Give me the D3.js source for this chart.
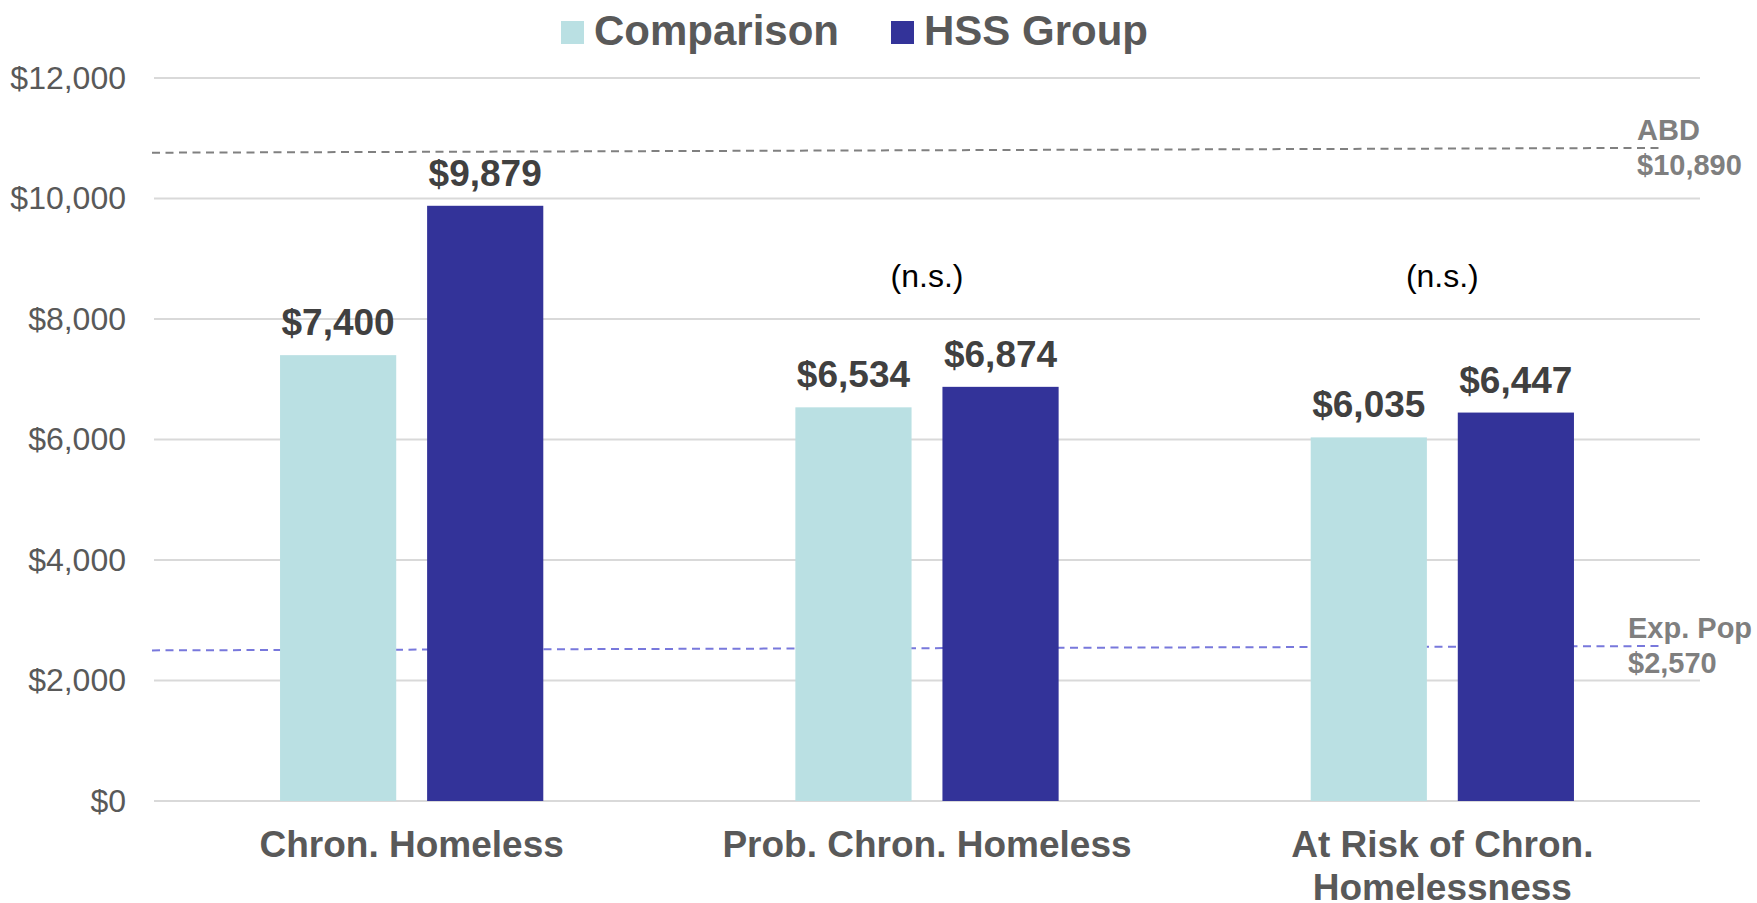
<!DOCTYPE html>
<html lang="en">
  <head>
    <meta charset="utf-8" />
    <title>Cost comparison</title>
    <style>
      html,
      body {
        margin: 0;
        padding: 0;
        background: #ffffff;
      }

      svg {
        display: block;
        font-family: 'Liberation Sans', Arial, sans-serif;
      }

      .grid line {
        stroke: #d9d9d9;
        stroke-width: 2;
      }
    </style>
  </head>

  <body>
    <svg></svg>

    <script src="https://d3js.org/d3.v7.min.js"></script>
    <script type="text/javascript">
      // Data
      const categories = [['Chron. Homeless'], ['Prob. Chron. Homeless'], ['At Risk of Chron.', 'Homelessness']]
      const seriesNames = ['Comparison', 'HSS Group']
      const comparisonValues = [7400, 6534, 6035]
      const hssValues = [9879, 6874, 6447]
      const groupNotes = ['', '(n.s.)', '(n.s.)']
      const yTicks = [0, 2000, 4000, 6000, 8000, 10000, 12000]
      // reference lines: value at left end and right end (drawn slightly sloped), label lines
      const refNames = ['ABD', 'Exp. Pop']
      const refLabels = ['$10,890', '$2,570']
      const refStart = [10760, 2500]
      const refEnd = [10840, 2572]

      const colors = ['#bae0e3', '#333399']
      const refColors = ['#808080', '#7878dc']

      let width = 1757,
        height = 903

      const margin = { top: 78, right: 57, bottom: 102, left: 154 }

      let svg = d3.select('svg').attr('width', width).attr('height', height)

      const x0 = d3
        .scaleBand()
        .domain(d3.range(categories.length))
        .range([margin.left, width - margin.right])
        .padding(0)

      const x1 = d3
        .scaleBand()
        .domain(seriesNames)
        .range([0, x0.bandwidth()])
        .paddingInner(0.21)
        .paddingOuter(0.857)

      const y = d3
        .scaleLinear()
        .domain([0, 12000])
        .range([height - margin.bottom, margin.top])

      const fmt = d3.format('$,')

      // Gridlines
      svg
        .append('g')
        .attr('class', 'grid')
        .selectAll('line')
        .data(yTicks)
        .join('line')
        .attr('x1', margin.left)
        .attr('x2', width - margin.right)
        .attr('y1', (d) => y(d))
        .attr('y2', (d) => y(d))

      // Y axis
      svg
        .append('g')
        .attr('transform', `translate(${margin.left},0)`)
        .call(d3.axisLeft(y).tickValues(yTicks).tickFormat(fmt).tickSize(0).tickPadding(28))
        .call((g) => g.select('.domain').remove())
        .call((g) =>
          g
            .selectAll('text')
            .attr('fill', '#595959')
            .style('font-size', '32px')
            .style('font-family', "'Liberation Sans', Arial, sans-serif")
        )

      // Reference lines
      const refs = refNames.map((name, i) => ({
        name,
        label: refLabels[i],
        v0: refStart[i],
        v1: refEnd[i],
        color: refColors[i],
      }))

      svg
        .append('g')
        .selectAll('line')
        .data(refs)
        .join('line')
        .attr('x1', margin.left - 2)
        .attr('x2', width - margin.right - 37)
        .attr('y1', (d) => y(d.v0))
        .attr('y2', (d) => y(d.v1))
        .attr('stroke', (d) => d.color)
        .attr('stroke-width', 2)
        .attr('stroke-dasharray', '8,5.5')

      const refText = svg
        .append('g')
        .selectAll('text')
        .data(refs)
        .join('text')
        .attr('font-size', 29)
        .attr('font-weight', 'bold')
        .attr('fill', '#7f7f7f')
        .attr('x', (d, i) => (i === 0 ? 1637 : 1628))
        .attr('y', (d) => y(d.v1) - 8)

      refText
        .append('tspan')
        .text((d) => d.name)
      refText
        .append('tspan')
        .attr('x', (d, i) => (i === 0 ? 1637 : 1628))
        .attr('dy', 35)
        .text((d) => d.label)

      // Bars
      const rows = categories.map((c, i) => ({
        idx: i,
        values: [
          { key: seriesNames[0], value: comparisonValues[i] },
          { key: seriesNames[1], value: hssValues[i] },
        ],
      }))

      const groups = svg
        .append('g')
        .selectAll('g')
        .data(rows)
        .join('g')
        .attr('transform', (d) => `translate(${x0(d.idx)},0)`)

      groups
        .selectAll('rect')
        .data((d) => d.values)
        .join('rect')
        .attr('x', (d) => x1(d.key))
        .attr('width', x1.bandwidth())
        .attr('y', (d) => y(d.value))
        .attr('height', (d) => y(0) - y(d.value))
        .attr('fill', (d, i) => colors[i])

      groups
        .selectAll('text.value')
        .data((d) => d.values)
        .join('text')
        .attr('class', 'value')
        .attr('x', (d) => x1(d.key) + x1.bandwidth() / 2)
        .attr('y', (d) => y(d.value) - 20)
        .attr('text-anchor', 'middle')
        .attr('font-size', 37)
        .attr('font-weight', 'bold')
        .attr('fill', '#404040')
        .text((d) => fmt(d.value))

      // n.s. notes
      groups
        .append('text')
        .attr('x', x0.bandwidth() / 2)
        .attr('y', 287)
        .attr('text-anchor', 'middle')
        .attr('font-size', 32)
        .attr('fill', '#000000')
        .text((d) => groupNotes[d.idx])

      // Category labels
      const cat = groups
        .append('text')
        .attr('x', x0.bandwidth() / 2)
        .attr('y', y(0) + 56)
        .attr('text-anchor', 'middle')
        .attr('font-size', 37)
        .attr('font-weight', 'bold')
        .attr('fill', '#595959')

      cat
        .selectAll('tspan')
        .data((d) => categories[d.idx])
        .join('tspan')
        .attr('x', x0.bandwidth() / 2)
        .attr('dy', (d, i) => (i === 0 ? 0 : 43))
        .text((d) => d)

      // Legend
      const legendX = [561, 891]
      const legend = svg
        .append('g')
        .selectAll('g')
        .data(seriesNames)
        .join('g')
        .attr('transform', (d, i) => `translate(${legendX[i]},21)`)

      legend
        .append('rect')
        .attr('width', 23)
        .attr('height', 23)
        .attr('fill', (d, i) => colors[i])

      legend
        .append('text')
        .attr('x', 33)
        .attr('y', 24)
        .attr('font-size', 42)
        .attr('font-weight', 'bold')
        .attr('fill', '#595959')
        .text((d) => d)
    </script>
  </body>
</html>
